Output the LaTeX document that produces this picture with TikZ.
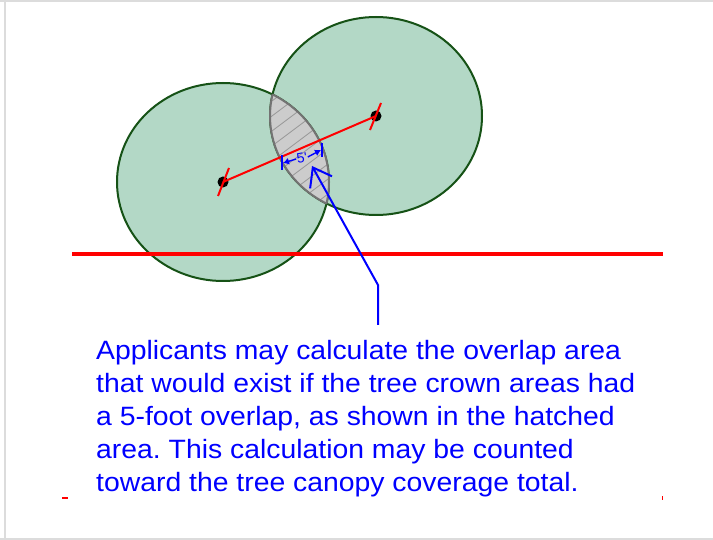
\documentclass[tikz,border=0pt]{standalone}
\usepackage{fontspec}
\setmainfont{Liberation Sans}
\usetikzlibrary{arrows.meta}
\definecolor{treefill}{RGB}{179,216,198}
\definecolor{treeline}{RGB}{22,82,22}
\definecolor{lensfill}{RGB}{204,204,204}
\definecolor{lensline}{RGB}{115,115,115}
\definecolor{hatchgray}{RGB}{150,150,150}
\definecolor{framegray}{RGB}{220,220,220}
\tikzset{
  crown/.style={x radius=106, y radius=99},
  crownfill/.style={fill=treefill},
  crownedge/.style={draw=treeline, line width=2},
  lensedge/.style={draw=lensline, line width=2},
  redline/.style={draw=red, line width=2},
  bluedim/.style={draw=blue, line width=1.4},
  pointer/.style={draw=blue, line width=2, -{Straight Barb[length=17pt,width=25pt,line width=2pt]}},
}
\begin{document}
\frenchspacing
\begin{tikzpicture}[x=1pt,y=-1pt]
\useasboundingbox (0,0) rectangle (713,540);
\fill[white] (0,0) rectangle (713,540);
% frame
\draw[framegray, line width=2] (0,1) -- (713,1);
\draw[framegray, line width=2] (5,0) -- (5,540);
\draw[framegray, line width=2] (0,539) -- (713,539);
% tree crowns
\coordinate (cL) at (223,182);
\coordinate (cR) at (376,116);
\fill[crownfill] (cL) ellipse [crown];
\fill[crownfill] (cR) ellipse [crown];
\draw[crownedge] (cL) ellipse [crown];
\draw[crownedge] (cR) ellipse [crown];
% lens overlap
\begin{scope}
  \clip (cL) ellipse [crown];
  \fill[lensfill] (cR) ellipse [crown];
  \begin{scope}
    \clip (cR) ellipse [crown];
    \foreach \i in {-6,...,12} {
      \draw[hatchgray, line width=0.8] (240,80+15*\i) -- ++(200,-150);
    }
  \end{scope}
  \draw[lensedge] (cR) ellipse [crown];
\end{scope}
\begin{scope}
  \clip (cR) ellipse [crown];
  \draw[lensedge] (cL) ellipse [crown];
\end{scope}
% ground line
\coordinate (gA) at (72,254);
\coordinate (gB) at (663,254);
\draw[red, line width=4] (gA) -- (gB);
% trunks
\fill[black] (cL) circle (5.5);
\fill[black] (cR) circle (5.5);
\coordinate (tLa) at (218,196); \coordinate (tLb) at (229,168);
\coordinate (tRa) at (370,130); \coordinate (tRb) at (381,103);
\draw[redline] (cL) -- (cR);
\draw[redline] (tLa) -- (tLb);
\draw[redline] (tRa) -- (tRb);
% dimension 5'
\coordinate (bl1) at (282,155); \coordinate (bl2) at (282,170);
\coordinate (br1) at (322,143); \coordinate (br2) at (322,157);
\coordinate (dl) at (283,163); \coordinate (dr) at (321,150);
\node[text=blue, font=\fontsize{14}{14}\selectfont, rotate=10, inner sep=0.5pt] (five) at (302,158) {5\textquotesingle};
\draw[bluedim] (bl1) -- (bl2);
\draw[bluedim] (br1) -- (br2);
\draw[bluedim, -{Latex[length=6pt,width=7pt]}] (five.west) -- (dl);
\draw[bluedim, -{Latex[length=6pt,width=7pt]}] (five.east) -- (dr);
% pointer
\coordinate (p1) at (378,325);
\coordinate (p2) at (378,285);
\coordinate (tip) at (312,166);
\draw[pointer] (p1) -- (p2) -- (tip);
% caption
\node[text=blue, align=left, anchor=north west, inner sep=0pt, xscale=1.07,
      font=\fontsize{26.5}{33}\selectfont] (caption) at (96,340)
  {Applicants may calculate the overlap area\\
   that would exist if the tree crown areas had\\
   a 5-foot overlap, as shown in the hatched\\
   area. This calculation may be counted\\
   toward the tree canopy coverage total.};
% small red marks
\coordinate (mA) at (62,498); \coordinate (mB) at (68,498);
\coordinate (mC) at (662,496); \coordinate (mD) at (662,500);
\draw[red, line width=2] (mA) -- (mB);
\draw[red, line width=1] (mC) -- (mD);
\end{tikzpicture}
\end{document}
